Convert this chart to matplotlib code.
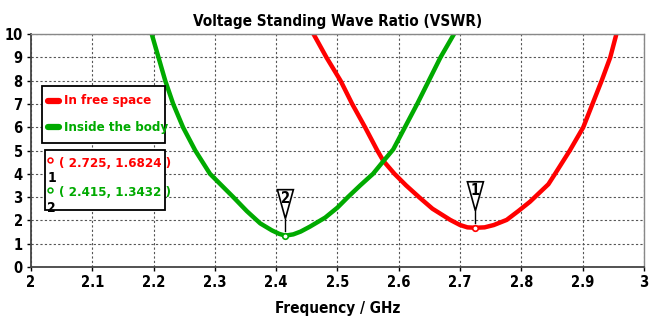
import matplotlib.pyplot as plt
import matplotlib.transforms as mtransforms
from matplotlib import font_manager
from matplotlib.patches import Polygon, Rectangle

# 找一个窄体字体
cond = [f.name for f in font_manager.fontManager.ttflist
        if 'condensed' in str(f.stretch).lower() or 'narrow' in f.name.lower()]
plt.rcParams['font.family'] = [cond[0] if cond else 'DejaVu Sans', 'DejaVu Sans']
plt.rcParams['font.stretch'] = 'condensed'

# 读图得到的数据点
freq_free = [2.461, 2.482, 2.505, 2.524, 2.545, 2.565, 2.575, 2.593, 2.612, 2.633, 2.655,
             2.684, 2.70, 2.712, 2.725, 2.74, 2.755, 2.776, 2.795, 2.814, 2.83, 2.844,
             2.855, 2.879, 2.901, 2.916, 2.931, 2.945, 2.955]
vswr_free = [10, 9, 8, 7, 6, 5, 4.55, 4, 3.5, 3, 2.5,
             2.02, 1.8, 1.7, 1.6824, 1.7, 1.8, 2.02, 2.4, 2.8, 3.2, 3.55,
             4, 5, 6, 7, 8, 9, 10]

freq_body = [2.197, 2.208, 2.219, 2.232, 2.248, 2.268, 2.292, 2.33, 2.352, 2.374, 2.393,
             2.405, 2.415, 2.428, 2.44, 2.455, 2.48, 2.50, 2.517, 2.537, 2.558, 2.576,
             2.591, 2.610, 2.630, 2.649, 2.668, 2.690]
vswr_body = [10, 9, 8, 7, 6, 5, 4, 3, 2.4, 1.87, 1.57,
             1.42, 1.3432, 1.4, 1.52, 1.73, 2.12, 2.55, 3, 3.5, 4, 4.58,
             5.05, 6, 7, 8, 9, 10]

markers = [(2.725, 1.6824, '1', '#ff0000'), (2.415, 1.3432, '2', '#00aa00')]
series_labels = ['In free space', 'Inside the body']
xticks = [2, 2.1, 2.2, 2.3, 2.4, 2.5, 2.6, 2.7, 2.8, 2.9, 3]
yticks = list(range(0, 11))

red = '#ff0000'
green = '#00aa00'

fig = plt.figure(figsize=(6.5, 3.22), dpi=100)
ax = fig.add_axes([0.0477, 0.171, 0.943, 0.723])

ax.plot(freq_free, vswr_free, color=red, lw=3.2, solid_capstyle='round', solid_joinstyle='round')
ax.plot(freq_body, vswr_body, color=green, lw=3.2, solid_capstyle='round', solid_joinstyle='round')

ax.set_xlim(2, 3)
ax.set_ylim(0, 10)
ax.set_xticks(xticks)
ax.set_xticklabels([f'{t:g}' for t in xticks])
ax.set_yticks(yticks)
ax.grid(True, color='#555555', linestyle=(0, (2, 2)), linewidth=0.8)
ax.tick_params(labelsize=10.5, length=3, width=1, direction='out', pad=3)
for lab in ax.get_xticklabels() + ax.get_yticklabels():
    lab.set_fontweight('bold')
for s in ['top', 'right']:
    ax.spines[s].set_color('#888888')
    ax.spines[s].set_linewidth(1)
for s in ['left', 'bottom']:
    ax.spines[s].set_color('#444444')
    ax.spines[s].set_linewidth(1.3)

ax.set_title('Voltage Standing Wave Ratio (VSWR)', fontsize=11, fontweight='bold', pad=6)
ax.set_xlabel('Frequency / GHz', fontsize=11, fontweight='bold', labelpad=8)

# 标记点:倒三角 + 数字
for fx, fy, num, col in markers:
    ax.plot(fx, fy, 'o', ms=4, mfc='white', mec=col, mew=1.2, zorder=5)
    trans = fig.dpi_scale_trans + mtransforms.ScaledTranslation(fx, fy, ax.transData)
    tri = Polygon([(-0.08, 0.46), (0.08, 0.46), (0.0, 0.17)], closed=True,
                  facecolor='white', edgecolor='black', lw=1.2, transform=trans, zorder=6)
    ax.add_patch(tri)
    ax.plot([0, 0], [0.17, 0.05], color='black', lw=1, transform=trans, zorder=6)
    ax.text(0.0, 0.37, num, transform=trans, ha='center', va='center',
            fontsize=10.5, fontweight='bold', zorder=7)

# 图例(手动画)
ax.add_patch(Rectangle((0.018, 0.532), 0.2, 0.245, transform=ax.transAxes,
                       facecolor='white', edgecolor='black', lw=1.3, zorder=8))
for i, (lab, col) in enumerate(zip(series_labels, [red, green])):
    yy = 0.713 - i * 0.112
    ax.plot([0.028, 0.046], [yy, yy], color=col, lw=4.5, solid_capstyle='round',
            transform=ax.transAxes, zorder=9)
    ax.text(0.054, yy, lab, transform=ax.transAxes, ha='left', va='center',
            fontsize=9.5, fontweight='bold', color=col, zorder=9)

# 标记值框
ax.add_patch(Rectangle((0.0228, 0.245), 0.195, 0.257, transform=ax.transAxes,
                       facecolor='white', edgecolor='black', lw=1.3, zorder=8))
for i, (fx, fy, num, col) in enumerate(markers):
    yy = 0.446 - i * 0.128
    ax.plot(0.031, yy + 0.012, 'o', ms=3.5, mfc='white', mec=col, mew=1.1,
            transform=ax.transAxes, zorder=9)
    ax.text(0.034, yy - 0.063, num, transform=ax.transAxes, ha='center', va='center',
            fontsize=10, fontweight='bold', zorder=9)
    ax.text(0.046, yy, f'( {fx}, {fy} )', transform=ax.transAxes, ha='left', va='center',
            fontsize=9.5, fontweight='bold', color=col, zorder=9)

fig.savefig('out.png', dpi=100)
